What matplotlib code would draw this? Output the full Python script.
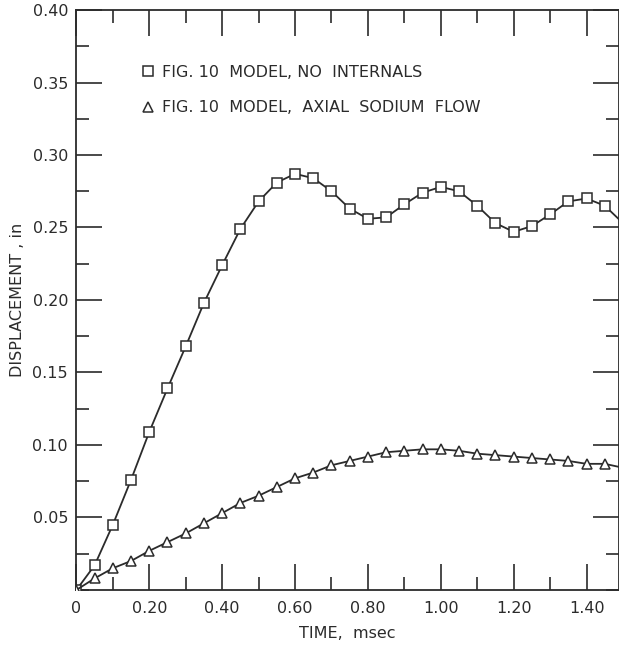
import numpy as np
import matplotlib
matplotlib.use("Agg")
import matplotlib.pyplot as plt
from matplotlib.lines import Line2D
from matplotlib.ticker import MultipleLocator, FixedLocator

# time points (msec) for the markers
time = [0.00, 0.05, 0.10, 0.15, 0.20, 0.25, 0.30, 0.35, 0.40, 0.45,
        0.50, 0.55, 0.60, 0.65, 0.70, 0.75, 0.80, 0.85, 0.90, 0.95,
        1.00, 1.05, 1.10, 1.15, 1.20, 1.25, 1.30, 1.35, 1.40, 1.45]

# FIG. 10 model, no internals (squares)
no_internals = [0.000, 0.017, 0.045, 0.076, 0.109, 0.139, 0.168, 0.198, 0.224, 0.249,
                0.268, 0.281, 0.287, 0.284, 0.275, 0.263, 0.256, 0.257, 0.266, 0.274,
                0.278, 0.275, 0.265, 0.253, 0.247, 0.251, 0.259, 0.268, 0.270, 0.265]

# FIG. 10 model, axial sodium flow (triangles)
axial_flow = [0.000, 0.008, 0.015, 0.020, 0.027, 0.033, 0.039, 0.046, 0.053, 0.060,
              0.065, 0.071, 0.077, 0.081, 0.086, 0.089, 0.092, 0.095, 0.096, 0.097,
              0.097, 0.096, 0.094, 0.093, 0.092, 0.091, 0.090, 0.089, 0.087, 0.087]

# curves run on past the last marker to the frame edge
tail_time = 1.50
tail_no_internals = 0.253
tail_axial_flow = 0.0843

x_ticks = [0, 0.2, 0.4, 0.6, 0.8, 1.0, 1.2, 1.4]
x_labels = ["0", "0.20", "0.40", "0.60", "0.80", "1.00", "1.20", "1.40"]
y_ticks = [0.05, 0.10, 0.15, 0.20, 0.25, 0.30, 0.35, 0.40]
y_labels = ["0.05", "0.10", "0.15", "0.20", "0.25", "0.30", "0.35", "0.40"]

ink = "#2b2b2b"
plt.rcParams["font.family"] = ["DejaVu Sans"]

fig = plt.figure(figsize=(6.19, 6.54), dpi=100)
ax = fig.add_axes([0.1234, 0.0979, 0.8766, 0.8868])

t1 = time + [tail_time]
ax.plot(t1, no_internals + [tail_no_internals], color=ink, lw=1.3,
        marker="s", ms=7.8, mfc="white", mec=ink, mew=1.1,
        markevery=list(range(len(time))), zorder=3)
ax.plot(t1, axial_flow + [tail_axial_flow], color=ink, lw=1.3,
        marker="^", ms=7.8, mfc="white", mec=ink, mew=1.1,
        markevery=list(range(len(time))), zorder=3)

ax.set_xlim(0, 1.489)
ax.set_ylim(0, 0.40)

ax.xaxis.set_major_locator(FixedLocator(x_ticks))
ax.set_xticklabels(x_labels)
ax.xaxis.set_minor_locator(MultipleLocator(0.1))
ax.yaxis.set_major_locator(FixedLocator(y_ticks))
ax.set_yticklabels(y_labels)
ax.yaxis.set_minor_locator(MultipleLocator(0.025))

ax.tick_params(which="both", direction="in", top=True, right=True,
               color=ink, width=1.2, labelsize=11.5, labelcolor=ink)
ax.tick_params(which="major", length=19)
ax.tick_params(which="minor", length=9.5)
ax.tick_params(axis="x", which="major", pad=8)
ax.tick_params(axis="y", which="major", pad=6)

for s in ax.spines.values():
    s.set_color(ink)
    s.set_linewidth(1.3)

ax.set_xlabel("TIME,  msec", fontsize=11.5, color=ink, labelpad=7)
ax.set_ylabel("DISPLACEMENT , in", fontsize=11.5, color=ink, labelpad=5)

handles = [
    Line2D([], [], ls="none", marker="s", ms=7, mfc="white", mec=ink, mew=1.1),
    Line2D([], [], ls="none", marker="^", ms=7, mfc="white", mec=ink, mew=1.1),
]
ax.legend(handles, ["FIG. 10  MODEL, NO  INTERNALS",
                    "FIG. 10  MODEL,  AXIAL  SODIUM  FLOW"],
          loc="upper left", bbox_to_anchor=(0.102, 0.919), frameon=False,
          fontsize=11.5, labelcolor=ink, handlelength=1.0, handletextpad=0.4,
          labelspacing=1.26, borderpad=0)

fig.savefig("out.png", dpi=100)
